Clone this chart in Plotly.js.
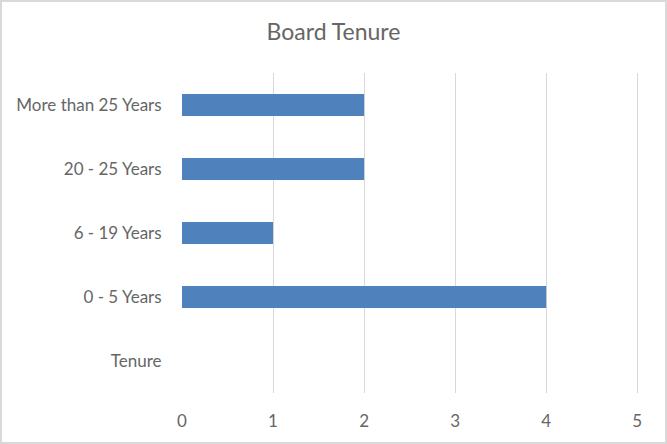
<!DOCTYPE html>
<html>
<head>
<meta charset="utf-8">
<script src="https://cdn.plot.ly/plotly-3.0.1.min.js"></script>
<style>
  body { margin: 0; background: #fff; }
  #wrap { position: relative; width: 667px; height: 444px; }
  #plot { width: 667px; height: 444px; }
  #frame { position: absolute; left: 0; top: 0; width: 667px; height: 444px;
           box-sizing: border-box; border: 2px solid #d9d9d9; pointer-events: none; }
</style>
</head>
<body>
<div id="wrap">
  <div id="plot"></div>
  <div id="frame"></div>
</div>
<script>
const categories = ['Tenure', '0 - 5 Years', '6 - 19 Years', '20 - 25 Years', 'More than 25 Years']
const members = [null, 4, 1, 2, 2]
const xTicks = [0, 1, 2, 3, 4, 5]

const TEXT = '#666666'
const GRID = '#d9d9d9'
const BAR = '#4f81bd'

const trace = {
    type: 'bar',
    orientation: 'h',
    y: categories,
    x: members,
    marker: {color: BAR},
    hoverinfo: 'x+y'
}

// a touch past 5 so the last gridline is drawn
const layout = {
    width: 667,
    height: 444,
    margin: {l: 182, r: 27, t: 73, b: 51},
    paper_bgcolor: '#ffffff',
    plot_bgcolor: '#ffffff',
    font: {family: 'Lato, "Liberation Sans", sans-serif', color: TEXT, size: 17},
    title: {
        text: 'Board Tenure',
        font: {size: 23, color: TEXT},
        x: 0.5,
        xanchor: 'center',
        y: 1 - 32 / 444,
        yanchor: 'middle'
    },
    bargap: 0.656,
    showlegend: false,
    xaxis: {
        range: [0, 5.03],
        tickvals: xTicks,
        showgrid: true,
        gridcolor: GRID,
        gridwidth: 1,
        zeroline: false,
        showline: false,
        ticks: 'outside',
        ticklen: 13,
        tickcolor: 'rgba(0,0,0,0)'
    },
    yaxis: {
        type: 'category',
        categoryorder: 'array',
        categoryarray: categories,
        showgrid: false,
        zeroline: false,
        showline: false,
        ticks: 'outside',
        ticklen: 16,
        tickcolor: 'rgba(0,0,0,0)'
    }
}

Plotly.newPlot('plot', [trace], layout, {displayModeBar: false, staticPlot: true})
</script>
</body>
</html>
